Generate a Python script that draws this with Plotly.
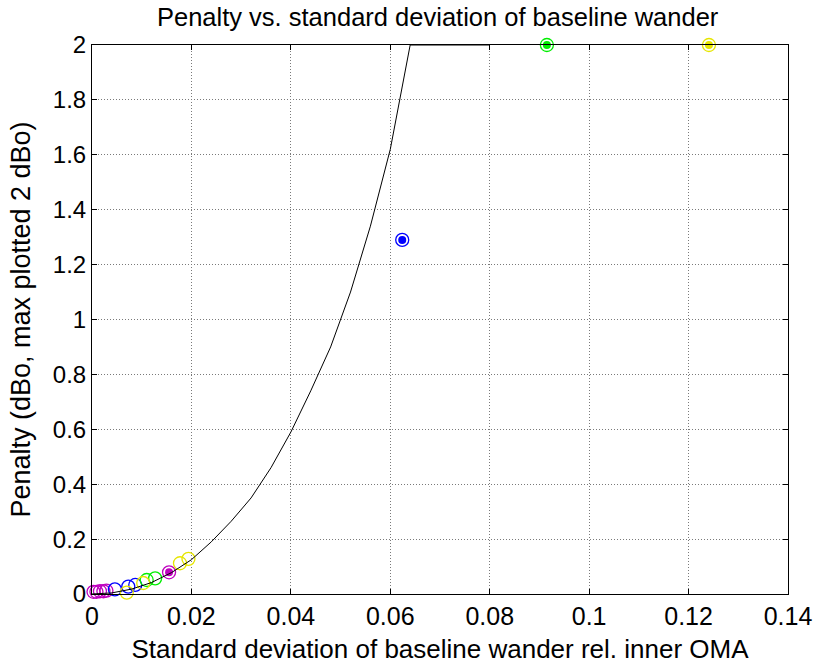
import plotly.graph_objects as go

# Model curve (penalty vs std of baseline wander), clipped at 2 dBo
curve_x = [0, 0.004, 0.008, 0.012, 0.016, 0.020, 0.024, 0.028, 0.032, 0.036,
           0.040, 0.044, 0.048, 0.052, 0.056, 0.060, 0.064, 0.080]
curve_y = [0, 0.004, 0.018, 0.042, 0.078, 0.125, 0.19, 0.265, 0.35, 0.46,
           0.59, 0.74, 0.90, 1.10, 1.34, 1.62, 2.0, 2.0]

# Measured points per colour group (open circles) and highlighted point (filled)
magenta_x = [0.0003, 0.0009, 0.0016, 0.0023, 0.0029, 0.0155]
magenta_y = [0.008, 0.008, 0.010, 0.010, 0.012, 0.079]
magenta_fx = [0.0155]
magenta_fy = [0.079]

blue_x = [0.0046, 0.0073, 0.0087, 0.0624]
blue_y = [0.017, 0.027, 0.033, 1.29]
blue_fx = [0.0624]
blue_fy = [1.29]

green_x = [0.0110, 0.0127, 0.0915]
green_y = [0.051, 0.057, 2.0]
green_fx = [0.0915]
green_fy = [2.0]

yellow_x = [0.0070, 0.0103, 0.0177, 0.0194, 0.1241]
yellow_y = [0.005, 0.040, 0.112, 0.128, 2.0]
yellow_fx = [0.1241]
yellow_fy = [2.0]

x_ticks = [0, 0.02, 0.04, 0.06, 0.08, 0.1, 0.12, 0.14]
x_labels = ["0", "0.02", "0.04", "0.06", "0.08", "0.1", "0.12", "0.14"]
y_ticks = [0, 0.2, 0.4, 0.6, 0.8, 1.0, 1.2, 1.4, 1.6, 1.8, 2.0]
y_labels = ["0", "0.2", "0.4", "0.6", "0.8", "1", "1.2", "1.4", "1.6", "1.8", "2"]

groups = [
    (magenta_x, magenta_y, magenta_fx, magenta_fy, "#BF00BF"),
    (blue_x, blue_y, blue_fx, blue_fy, "#0000FF"),
    (green_x, green_y, green_fx, green_fy, "#00EE00"),
    (yellow_x, yellow_y, yellow_fx, yellow_fy, "#E6E600"),
]

fig = go.Figure()
for gx, gy, fx, fy, col in groups:
    fig.add_trace(go.Scatter(
        x=gx, y=gy, mode="markers", cliponaxis=False, showlegend=False,
        marker=dict(symbol="circle-open", size=13, color=col, line=dict(width=1.3, color=col)),
    ))
    fig.add_trace(go.Scatter(
        x=fx, y=fy, mode="markers", cliponaxis=False, showlegend=False,
        marker=dict(symbol="circle", size=8, color=col, line=dict(width=0)),
    ))

fig.add_trace(go.Scatter(
    x=curve_x, y=curve_y, mode="lines", showlegend=False,
    line=dict(color="black", width=1),
))

font = "Liberation Sans, Arial, sans-serif"
axis_common = dict(
    showline=True, linecolor="black", linewidth=1, mirror="ticks",
    ticks="inside", ticklen=5, tickcolor="black", tickwidth=1,
    showgrid=True, gridcolor="#7a7a7a", griddash="1px,2px", gridwidth=1,
    zeroline=False, automargin=False,
)

fig.update_layout(
    width=815, height=664,
    margin=dict(l=92, r=27, t=45, b=70),
    paper_bgcolor="white", plot_bgcolor="white",
    title=dict(text="Penalty vs. standard deviation of baseline wander",
               x=0.537, xanchor="center", y=0.988, yanchor="top",
               font=dict(family=font, size=25.5, color="black")),
    xaxis=dict(range=[0, 0.14], tickvals=x_ticks, ticktext=x_labels,
               tickfont=dict(family=font, size=25, color="black"),
               title=dict(text="Standard deviation of baseline wander rel. inner OMA",
                          font=dict(family=font, size=26, color="black"), standoff=10),
               **axis_common),
    yaxis=dict(range=[0, 2], tickvals=y_ticks, ticktext=y_labels,
               tickfont=dict(family=font, size=24, color="black"),
               title=dict(text="Penalty (dBo, max plotted 2 dBo)",
                          font=dict(family=font, size=27, color="black"), standoff=14),
               **axis_common),
)

fig.write_html("out.html")
